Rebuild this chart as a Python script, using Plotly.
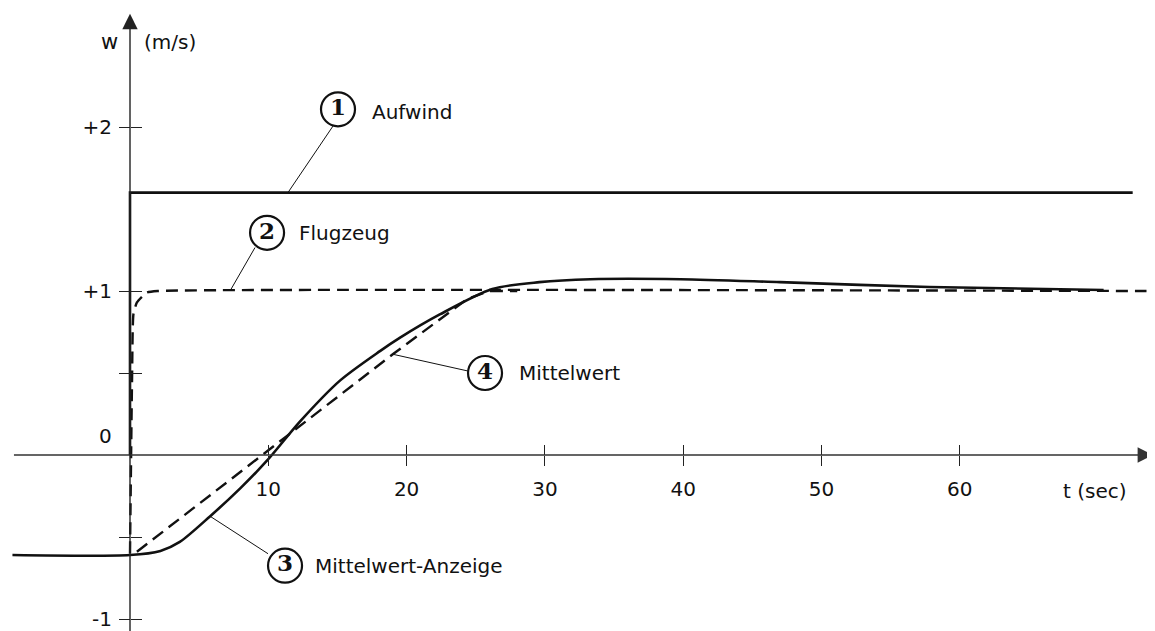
import plotly.graph_objects as go

# ---- data (time in s, vertical speed w in m/s) ----
aufwind_t = [0, 0, 72.5]
aufwind_w = [0, 1.6, 1.6]

flugzeug_t = [0, 0.15, 0.25, 0.5, 1.2, 2.0, 73.5]
flugzeug_w = [-0.6, 0.47, 0.86, 0.93, 0.99, 1.0, 1.0]

anzeige_t = [-8.5, 0, 2.2, 3.6, 5.8, 7.95, 9.9, 12.3, 15.2, 18.1, 19.5, 22.4, 26.2, 29.6, 33.3, 39.8, 47.0, 57.8, 70.4]
anzeige_w = [-0.61, -0.61, -0.585, -0.53, -0.373, -0.205, -0.035, 0.205, 0.455, 0.635, 0.714, 0.857, 1.012, 1.054, 1.072, 1.072, 1.054, 1.024, 1.006]

mittel_t = [0.5, 8.9, 19.0, 24.4, 26.0, 28.0]
mittel_w = [-0.59, -0.042, 0.614, 0.952, 1.0, 1.0]

x_ticks = [10, 20, 30, 40, 50, 60]
y_ticks = [-1, -0.5, 0.5, 1, 2]
y_ticktext = ["-1", "", "", "+1", "+2"]

# labels: (circle number, text, circle pos, text pos, leader from, leader to)
labels = [
    ("1", "Aufwind", (15.04, 2.108), (17.35, 2.09), (14.68, 2.006), (11.42, 1.6)),
    ("2", "Flugzeug", (9.91, 1.355), (12.08, 1.355), (9.04, 1.265), (7.23, 1.0)),
    ("3", "Mittelwert-Anzeige", (11.21, -0.675), (13.23, -0.675), (9.98, -0.602), (5.78, -0.373)),
    ("4", "Mittelwert", (25.67, 0.50), (27.98, 0.50), (24.44, 0.512), (19.02, 0.614)),
]

# page body has an 8px margin, so the figure is 8px smaller than the window
W, H = 1147, 623
PX_PER_S = 13.83
X0 = 122          # pixel of t = 0 inside the figure
Y0 = 447          # pixel of w = 0 inside the figure
PX_PER_W = 164
XR = [-X0 / PX_PER_S, (W - X0) / PX_PER_S]
YR = [-(H - Y0) / PX_PER_W, Y0 / PX_PER_W]
XPOS = X0 / W
YPOS = (H - Y0) / H

FONT = "DejaVu Sans"
INK = "#111111"

fig = go.Figure()

fig.add_trace(go.Scatter(x=aufwind_t, y=aufwind_w, mode="lines",
                         line=dict(color=INK, width=2.6), hoverinfo="skip", showlegend=False))
fig.add_trace(go.Scatter(x=flugzeug_t, y=flugzeug_w, mode="lines",
                         line=dict(color=INK, width=2.4, dash="12px,7px", shape="spline", smoothing=0.5),
                         hoverinfo="skip", showlegend=False))
fig.add_trace(go.Scatter(x=anzeige_t, y=anzeige_w, mode="lines",
                         line=dict(color=INK, width=2.6, shape="spline", smoothing=0.8),
                         hoverinfo="skip", showlegend=False))
fig.add_trace(go.Scatter(x=mittel_t, y=mittel_w, mode="lines",
                         line=dict(color=INK, width=2.4, dash="13px,7px"),
                         hoverinfo="skip", showlegend=False))

# leader lines
for num, txt, cpos, tpos, lfrom, lto in labels:
    fig.add_trace(go.Scatter(x=[lfrom[0], lto[0]], y=[lfrom[1], lto[1]], mode="lines",
                             line=dict(color=INK, width=1), hoverinfo="skip", showlegend=False))

# circled numbers
fig.add_trace(go.Scatter(
    x=[l[2][0] for l in labels], y=[l[2][1] for l in labels],
    mode="markers+text", text=["<b>%s</b>" % l[0] for l in labels],
    textposition="middle center",
    textfont=dict(family="DejaVu Serif", size=23, color=INK),
    marker=dict(symbol="circle", size=34, color="white", line=dict(color=INK, width=2.2)),
    hoverinfo="skip", showlegend=False))

# dummy trace for the overlay axes (crossing ticks)
fig.add_trace(go.Scatter(x=[None], y=[None], xaxis="x2", yaxis="y2",
                         hoverinfo="skip", showlegend=False))

annotations = []
for num, txt, cpos, tpos, lfrom, lto in labels:
    annotations.append(dict(x=tpos[0], y=tpos[1], xref="x", yref="y", text=txt,
                            showarrow=False, xanchor="left", yanchor="middle",
                            font=dict(family=FONT, size=20, color=INK)))

# axis arrows
annotations.append(dict(x=73.97, y=0, ax=-8.5, ay=0, xref="x", yref="y", axref="x", ayref="y",
                        text="", showarrow=True, arrowhead=2, arrowsize=2.2, arrowwidth=1.4,
                        arrowcolor="#333333"))
annotations.append(dict(x=0, y=2.69, ax=0, ay=-1.1, xref="x", yref="y", axref="x", ayref="y",
                        text="", showarrow=True, arrowhead=2, arrowsize=2.2, arrowwidth=1.4,
                        arrowcolor="#222222"))

annotations.append(dict(x=-1.8, y=0.114, xref="x", yref="y", text="0", showarrow=False,
                        font=dict(family=FONT, size=20, color=INK)))
annotations.append(dict(x=-1.45, y=2.518, xref="x", yref="y", text="w", showarrow=False,
                        font=dict(family=FONT, size=21, color=INK)))
annotations.append(dict(x=0.87, y=2.518, xref="x", yref="y", text="(m/s)", showarrow=False,
                        xanchor="left", font=dict(family=FONT, size=20, color=INK)))
annotations.append(dict(x=69.78, y=-0.217, xref="x", yref="y", text="t (sec)", showarrow=False,
                        font=dict(family=FONT, size=20, color=INK)))

common_x = dict(range=XR, anchor="free", position=YPOS, showgrid=False, zeroline=False,
                showline=False, tickvals=x_ticks, tickcolor="#222222", tickwidth=1, ticklen=10)
common_y = dict(range=YR, anchor="free", position=XPOS, showgrid=False, zeroline=False,
                showline=False, tickvals=y_ticks, tickcolor="#222222", tickwidth=1, ticklen=11)

fig.update_layout(
    width=W, height=H,
    margin=dict(l=0, r=0, t=0, b=0),
    paper_bgcolor="white", plot_bgcolor="white",
    showlegend=False,
    xaxis=dict(**common_x, side="bottom", ticks="outside",
               ticktext=[str(v) for v in x_ticks],
               tickfont=dict(family=FONT, size=20, color=INK), ticklabelstandoff=6),
    xaxis2=dict(**common_x, overlaying="x", side="top", ticks="outside", showticklabels=False),
    yaxis=dict(**common_y, side="left", ticks="outside", ticktext=y_ticktext,
               tickfont=dict(family=FONT, size=20, color=INK), ticklabelstandoff=3,
               ticklabeloverflow="allow"),
    yaxis2=dict(**common_y, overlaying="y", side="right", ticks="outside", showticklabels=False),
    annotations=annotations,
)

fig.write_html("out.html")
